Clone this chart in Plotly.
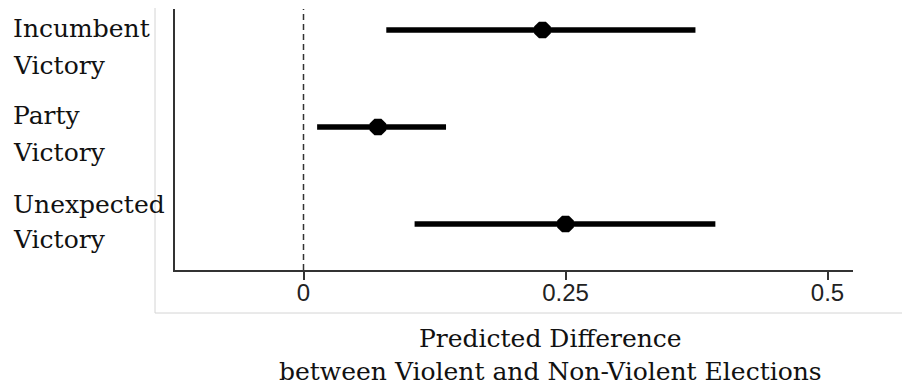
import plotly.graph_objects as go

# ---- data ----
label_line1 = ["Incumbent", "Party", "Unexpected"]
label_line2 = ["Victory", "Victory", "Victory"]
estimate = [0.228, 0.071, 0.250]
ci_low = [0.079, 0.013, 0.106]
ci_high = [0.374, 0.136, 0.393]
tick_vals = [0, 0.25, 0.5]
tick_text = ["0", "0.25", "0.5"]
xlab_line1 = "Predicted Difference"
xlab_line2 = "between Violent and Non-Violent Elections"

# ---- layout geometry (page pixels; the page body adds an 8px offset) ----
OFF = 8
W, H = 910 - OFF, 387 - OFF
L, R, T, B = 175 - OFF, 853 - OFF, 8 - OFF + 1, 270 - OFF
pw, ph = R - L, B - T


def px(x):
    return (x - OFF - L) / pw


def py(y):
    return (B - (y - OFF)) / ph


pos = [1, 2, 3]

fig = go.Figure()
fig.add_trace(go.Scatter(
    x=estimate, y=pos, mode="markers",
    marker=dict(symbol="octagon", size=18, color="black"),
    error_x=dict(type="data", symmetric=False,
                 array=[h - e for h, e in zip(ci_high, estimate)],
                 arrayminus=[e - l for e, l in zip(estimate, ci_low)],
                 thickness=5.5, width=0, color="black"),
    showlegend=False, hoverinfo="skip"))

shapes = [
    dict(type="line", xref="x", yref="paper", x0=0, x1=0, y0=0, y1=1,
         line=dict(color="#333333", width=1.5, dash="6px,4px")),
    dict(type="line", xref="paper", yref="paper", x0=px(155), x1=px(155),
         y0=py(OFF - 2), y1=py(313), line=dict(color="#d4d4d4", width=1)),
    dict(type="line", xref="paper", yref="paper", x0=px(155), x1=px(920),
         y0=py(313), y1=py(313), line=dict(color="#d4d4d4", width=1)),
]

serif = "DejaVu Serif"
annotations = []
base1 = [38, 124, 213]
base2 = [75, 161, 248]
for i in range(3):
    for txt, b in ((label_line1[i], base1[i]), (label_line2[i], base2[i])):
        annotations.append(dict(
            text=txt, xref="paper", yref="paper", x=px(3 + OFF), y=py(b - 9),
            xanchor="left", yanchor="middle", showarrow=False,
            font=dict(family=serif, size=25, color="#111111")))
for txt, b in ((xlab_line1, 347), (xlab_line2, 380)):
    annotations.append(dict(
        text=txt, xref="paper", yref="paper", x=px(550), y=py(b - 9),
        xanchor="center", yanchor="middle", showarrow=False,
        font=dict(family=serif, size=25, color="#111111")))

fig.update_layout(
    width=W, height=H,
    margin=dict(l=L, r=W - R, t=T, b=H - B, pad=0),
    paper_bgcolor="white", plot_bgcolor="white",
    shapes=shapes, annotations=annotations,
    xaxis=dict(range=[(175 - 303.5) / 1048, (853 - 303.5) / 1048],
               tickvals=tick_vals, ticktext=tick_text,
               ticks="outside", ticklen=8, tickwidth=1.5, tickcolor="#333333",
               ticklabelstandoff=-8,
               showline=True, linecolor="#333333", linewidth=1.5,
               showgrid=False, zeroline=False,
               tickfont=dict(family="Liberation Sans", size=24, color="#222222")),
    yaxis=dict(range=[3 + 46 / 97, 1 - 21 / 97], showticklabels=False,
               ticks="", showline=True, linecolor="#333333", linewidth=1.5,
               showgrid=False, zeroline=False),
)

fig.write_html("out.html")
